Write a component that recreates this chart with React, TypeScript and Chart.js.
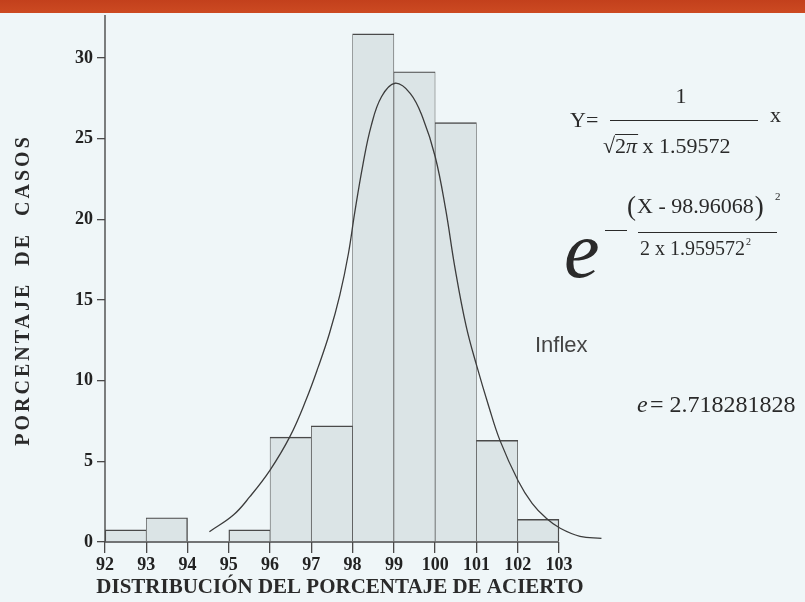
import { useEffect, useRef } from "react";
import { Chart, registerables } from "chart.js";

Chart.register(...registerables);

// Histogram bins: left edge of each one-point-wide class and its share of cases (%)
const binStarts = [92, 93, 95, 96, 97, 98, 99, 100, 101, 102];
const binPercent = [0.75, 1.5, 0.75, 6.5, 7.2, 31.5, 29.15, 26.0, 6.3, 1.4];

// Fitted curve, sampled along its drawn path
const curveX = [
  94.53, 95.11, 95.51, 96.0, 96.48, 96.87, 97.17, 97.44, 97.69, 97.9, 98.05, 98.25, 98.45, 98.7,
  99.03, 99.4, 99.7, 100.0, 100.25, 100.48, 100.75, 101.01, 101.3, 101.57, 102.01, 102.35, 102.7,
  103.03, 103.51, 104.03,
];
const curveY = [
  0.64, 1.67, 2.81, 4.46, 6.53, 8.8, 10.87, 12.94, 15.3, 17.9, 20.4, 23.4, 25.8, 27.6,
  28.44, 27.8, 26.3, 23.9, 20.7, 17.0, 13.4, 10.9, 8.4, 6.3, 3.8, 2.4, 1.45,
  0.85, 0.35, 0.22,
];

const xTicks = [92, 93, 94, 95, 96, 97, 98, 99, 100, 101, 102, 103];
const yTicks = [0, 5, 10, 15, 20, 25, 30];

const xTitle = "DISTRIBUCIÓN DEL PORCENTAJE DE ACIERTO";
const yTitle = "PORCENTAJE  DE  CASOS";

const SERIF = '"Liberation Serif", "Times New Roman", "DejaVu Serif", serif';
const SANS = '"Liberation Sans", Arial, "DejaVu Sans", sans-serif';
const INK = "#2a2a2a";
const LINE = "#4a4a4a";
const PAGE_BG = "#eff6f8";

const decorPlugin = {
  id: "decor",
  beforeDraw(chart: any) {
    const { ctx, width, height } = chart;
    ctx.save();
    ctx.fillStyle = PAGE_BG;
    ctx.fillRect(0, 0, width, height);
    const g = ctx.createLinearGradient(0, 0, 0, 13);
    g.addColorStop(0, "#c3401c");
    g.addColorStop(1, "#cc4a22");
    ctx.fillStyle = g;
    ctx.fillRect(0, 0, width, 13);
    ctx.restore();
  },
  afterDatasetsDraw(chart: any) {
    const { ctx, chartArea } = chart;
    const xs = chart.scales.x;
    const ys = chart.scales.y;
    const y0 = ys.getPixelForValue(0);
    ctx.save();
    ctx.strokeStyle = LINE;
    ctx.lineWidth = 1.4;
    ctx.beginPath();
    ctx.moveTo(chartArea.left, chartArea.top);
    ctx.lineTo(chartArea.left, y0);
    ctx.moveTo(chartArea.left, y0);
    ctx.lineTo(xs.getPixelForValue(xTicks[xTicks.length - 1]), y0);
    ctx.stroke();
    ctx.restore();
  },
  afterDraw(chart: any) {
    const { ctx } = chart;
    ctx.save();
    ctx.fillStyle = INK;
    ctx.strokeStyle = INK;

    // axis titles
    ctx.textAlign = "center";
    ctx.textBaseline = "alphabetic";
    ctx.font = `bold 21px ${SERIF}`;
    ctx.fillText(xTitle, 340, 593);

    ctx.save();
    ctx.translate(29, 290);
    ctx.rotate(-Math.PI / 2);
    ctx.font = `bold 20px ${SERIF}`;
    try {
      (ctx as any).letterSpacing = "3px";
    } catch (e) {}
    ctx.fillText(yTitle, 0, 0);
    ctx.restore();

    // Y = 1 / (sqrt(2 pi) x 1.59572) x
    ctx.textAlign = "left";
    ctx.font = `22px ${SERIF}`;
    ctx.fillText("Y=", 570, 127);
    ctx.textAlign = "center";
    ctx.fillText("1", 681, 103);
    ctx.lineWidth = 1;
    ctx.beginPath();
    ctx.moveTo(610, 120.5);
    ctx.lineTo(758, 120.5);
    ctx.stroke();

    ctx.textAlign = "left";
    let cx = 603;
    ctx.fillText("\u221A", cx, 153);
    cx += ctx.measureText("\u221A").width;
    const rootStart = cx;
    ctx.fillText("2", cx, 153);
    cx += ctx.measureText("2").width;
    ctx.font = `italic 22px ${SERIF}`;
    ctx.fillText("\u03C0", cx, 153);
    cx += ctx.measureText("\u03C0").width;
    ctx.beginPath();
    ctx.moveTo(rootStart, 134.5);
    ctx.lineTo(cx + 1, 134.5);
    ctx.stroke();
    ctx.font = `22px ${SERIF}`;
    ctx.fillText(" x 1.59572", cx, 153);
    ctx.fillText("x", 770, 122);

    // exponent: (X - 98.96068)^2 / (2 x 1.959572^2)
    ctx.font = `27px ${SERIF}`;
    ctx.fillText("(", 627, 215);
    ctx.font = `22px ${SERIF}`;
    ctx.fillText("X - 98.96068", 637, 213);
    const numW = ctx.measureText("X - 98.96068").width;
    ctx.font = `27px ${SERIF}`;
    ctx.fillText(")", 638 + numW, 215);
    ctx.font = `11px ${SERIF}`;
    ctx.fillText("2", 775, 200);

    ctx.beginPath();
    ctx.moveTo(605, 230.5);
    ctx.lineTo(627, 230.5);
    ctx.moveTo(638, 232.5);
    ctx.lineTo(777, 232.5);
    ctx.stroke();

    ctx.font = `20px ${SERIF}`;
    ctx.fillText("2 x 1.959572", 640, 255);
    const denW = ctx.measureText("2 x 1.959572").width;
    ctx.font = `10px ${SERIF}`;
    ctx.fillText("2", 641 + denW, 245);

    ctx.font = `italic 80px ${SERIF}`;
    ctx.fillText("e", 564, 277);

    // notes
    ctx.fillStyle = "#444";
    ctx.font = `22px ${SANS}`;
    ctx.fillText("Inflex", 535, 352);

    ctx.fillStyle = INK;
    ctx.font = `italic 24px ${SERIF}`;
    ctx.fillText("e", 637, 412);
    ctx.font = `24px ${SERIF}`;
    ctx.fillText("= 2.718281828", 650, 412);

    ctx.restore();
  },
};

export default function App() {
  const canvasRef = useRef<HTMLCanvasElement | null>(null);

  useEffect(() => {
    document.body.style.margin = "0";
    const canvas = canvasRef.current;
    if (!canvas) return;

    const hasBin = (s: number) => binStarts.includes(s);

    const chart = new Chart(canvas, {
      type: "bar",
      data: {
        datasets: [
          {
            type: "line",
            label: "curve",
            data: curveX.map((x, i) => ({ x, y: curveY[i] })),
            borderColor: "#3c3c3c",
            borderWidth: 1.3,
            pointRadius: 0,
            fill: false,
            tension: 0.4,
            order: 0,
          } as any,
          {
            type: "bar",
            label: "bins",
            data: binStarts.map((s, i) => ({ x: s + 0.5, y: binPercent[i] })),
            backgroundColor: "#dbe4e6",
            borderColor: LINE,
            borderWidth: (c: any) => {
              const s = binStarts[c.dataIndex];
              return {
                top: 1.4,
                bottom: 0,
                left: hasBin(s - 1) ? 0.7 : 1.4,
                right: hasBin(s + 1) ? 0.7 : 1.4,
              };
            },
            borderSkipped: false,
            barPercentage: 1,
            categoryPercentage: 1,
            order: 1,
          } as any,
        ],
      },
      options: {
        animation: false,
        responsive: false,
        devicePixelRatio: 1,
        layout: { padding: { top: 15, left: 0, right: 192.4, bottom: 0 } },
        plugins: {
          legend: { display: false },
          tooltip: { enabled: false },
          title: { display: false },
        },
        scales: {
          x: {
            type: "linear",
            min: 92,
            max: 104.3,
            offset: false,
            afterBuildTicks: (axis: any) => {
              axis.ticks = xTicks.map((v) => ({ value: v }));
            },
            afterFit: (axis: any) => {
              axis.height = 60;
            },
            grid: {
              display: true,
              offset: false,
              drawOnChartArea: false,
              drawTicks: true,
              tickLength: 11,
              color: LINE,
              lineWidth: 1.3,
            },
            border: { display: false },
            ticks: {
              autoSkip: false,
              maxRotation: 0,
              padding: 2,
              color: "#222",
              font: { family: SERIF, size: 18, weight: "bold" },
              callback: (v: any) => String(v),
            },
          },
          y: {
            type: "linear",
            min: 0,
            max: 32.67,
            afterBuildTicks: (axis: any) => {
              axis.ticks = yTicks.map((v) => ({ value: v }));
            },
            afterFit: (axis: any) => {
              axis.width = 105;
            },
            grid: {
              display: true,
              offset: false,
              drawOnChartArea: false,
              drawTicks: true,
              tickLength: 8,
              color: LINE,
              lineWidth: 1.3,
            },
            border: { display: false },
            ticks: {
              padding: 4,
              color: "#222",
              font: { family: SERIF, size: 18, weight: "bold" },
              callback: (v: any) => String(v),
            },
          },
        },
      },
      plugins: [decorPlugin],
    });

    return () => {
      chart.destroy();
    };
  }, []);

  return (
    <div style={{ position: "absolute", left: 0, top: 0, width: 805, height: 602, background: PAGE_BG }}>
      <canvas ref={canvasRef} width={805} height={602} style={{ display: "block" }} />
    </div>
  );
}
